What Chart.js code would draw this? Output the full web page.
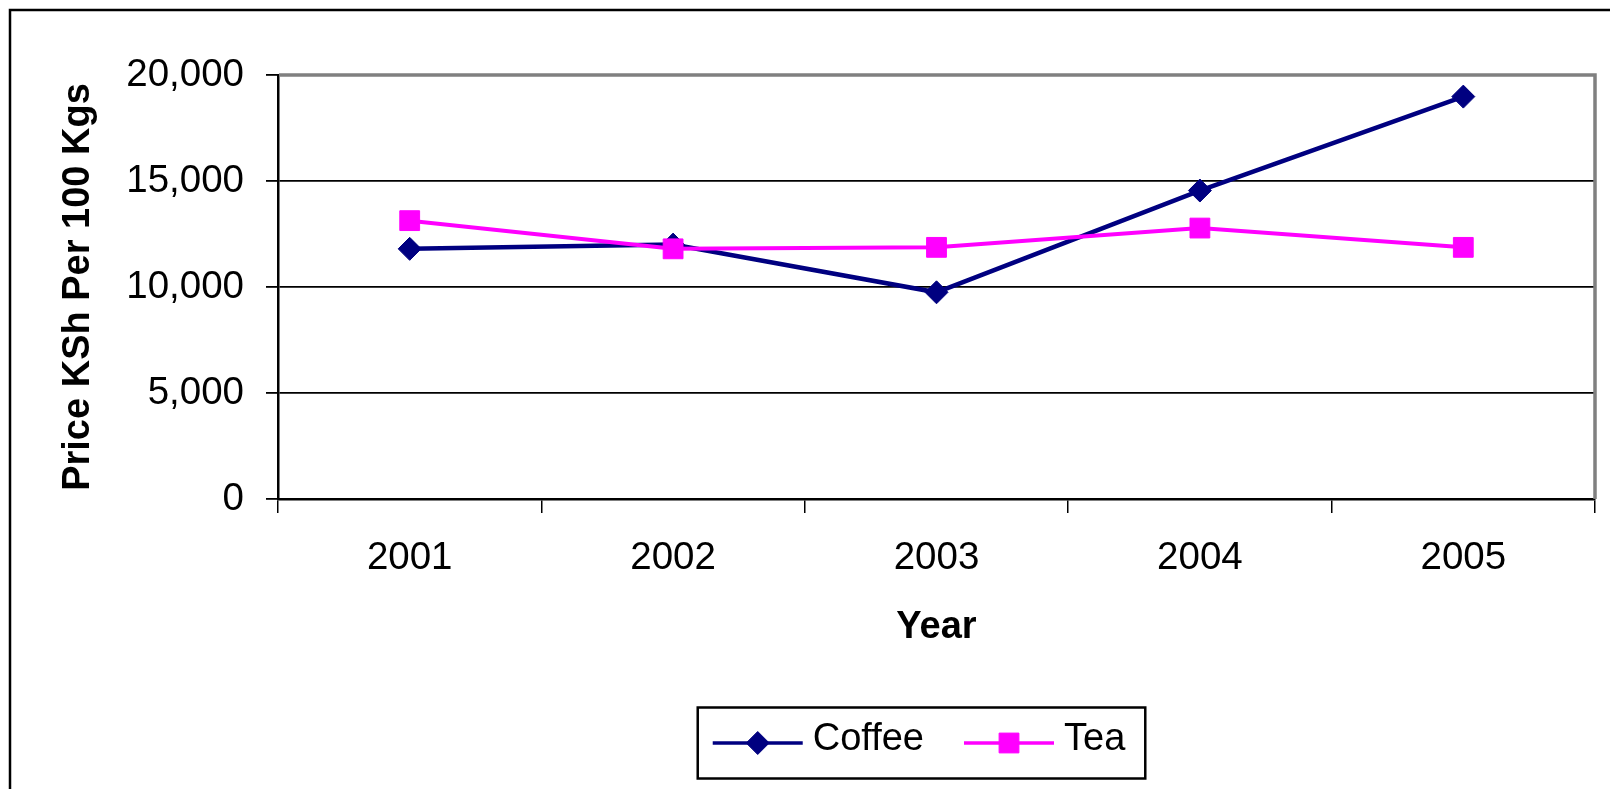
<!DOCTYPE html>
<html>
<head>
<meta charset="utf-8">
<title>Coffee and Tea Prices</title>
<script src="https://cdn.jsdelivr.net/npm/chart.js@4.4.1/dist/chart.umd.min.js"></script>
<style>
  html, body { margin: 0; padding: 0; background: #fff; overflow: hidden; }
  canvas { display: block; }
</style>
</head>
<body>
<canvas id="priceChart" width="1610" height="789"></canvas>
<script>
const years = ['2001', '2002', '2003', '2004', '2005'];
const coffeePrices = [11800, 12000, 9750, 14550, 18980];
const teaPrices = [13130, 11800, 11870, 12780, 11870];
const yTicks = [0, 5000, 10000, 15000, 20000];

Chart.defaults.font.family = '"Liberation Sans", Arial, sans-serif';
Chart.defaults.color = '#000';

// grey top/right edge of the plot and the black outer frame
const framePlugin = {
  id: 'frame',
  afterDraw(chart) {
    const { ctx, chartArea: a } = chart;
    ctx.save();
    ctx.strokeStyle = '#808080';
    ctx.lineWidth = 3.5;
    ctx.beginPath();
    ctx.moveTo(a.left + 1, a.top);
    ctx.lineTo(a.right, a.top);
    ctx.lineTo(a.right, a.bottom);
    ctx.stroke();
    ctx.strokeStyle = '#000';
    ctx.lineWidth = 2.5;
    ctx.strokeRect(10, 10, chart.width + 50, chart.height + 50);
    ctx.restore();
  }
};

// Excel style legend: line with marker, inside a box
const boxLegend = {
  id: 'boxLegend',
  afterDraw(chart) {
    const { ctx, chartArea: a } = chart;
    const sets = chart.data.datasets;
    ctx.save();
    ctx.font = '38px "Liberation Sans", Arial, sans-serif';
    const lineLen = 90, gapText = 10, gapItem = 40, padL = 15, padR = 20, h = 71;
    const widths = sets.map(d => ctx.measureText(d.label).width);
    const total = padL + padR + widths.reduce((s, w) => s + lineLen + gapText + w, 0) + gapItem * (sets.length - 1);
    const cx = (a.left + a.right) / 2 - 15;
    const cy = 743;
    const left = cx - total / 2;
    ctx.strokeStyle = '#000';
    ctx.lineWidth = 2.5;
    ctx.strokeRect(left, cy - h / 2, total, h);
    let x = left + padL;
    sets.forEach((d, i) => {
      ctx.strokeStyle = d.borderColor;
      ctx.fillStyle = d.backgroundColor;
      ctx.lineWidth = 3.5;
      ctx.beginPath();
      ctx.moveTo(x, cy);
      ctx.lineTo(x + lineLen, cy);
      ctx.stroke();
      ctx.lineWidth = 1;
      Chart.helpers.drawPoint(ctx, { pointStyle: d.pointStyle, radius: d.pointRadius, borderWidth: 1, rotation: 0 }, x + lineLen / 2, cy);
      x += lineLen + gapText;
      ctx.fillStyle = '#000';
      ctx.textBaseline = 'middle';
      ctx.textAlign = 'left';
      ctx.fillText(d.label, x, cy - 3);
      x += widths[i] + gapItem;
    });
    ctx.restore();
  }
};

new Chart(document.getElementById('priceChart'), {
  type: 'line',
  data: {
    labels: years,
    datasets: [
      {
        label: 'Coffee',
        data: coffeePrices,
        borderColor: '#000080',
        backgroundColor: '#000080',
        borderWidth: 4.5,
        pointStyle: 'rectRot',
        pointRadius: 11.5,
        pointBorderWidth: 1,
        order: 1
      },
      {
        label: 'Tea',
        data: teaPrices,
        borderColor: '#ff00ff',
        backgroundColor: '#ff00ff',
        borderWidth: 4,
        pointStyle: 'rect',
        pointRadius: 14,
        pointBorderWidth: 1,
        order: 0
      }
    ]
  },
  options: {
    responsive: false,
    animation: false,
    events: [],
    layout: { padding: { top: 75, right: 15, bottom: 0, left: 0 } },
    plugins: {
      legend: { display: false },
      tooltip: { enabled: false }
    },
    scales: {
      x: {
        offset: true,
        grid: { offset: true, drawOnChartArea: false, drawTicks: true, tickLength: 14, color: '#000', lineWidth: 1.5 },
        border: { color: '#000', width: 2.5 },
        ticks: { color: '#000', padding: 22, maxRotation: 0, font: { size: 38.5 } },
        title: {
          display: true,
          text: 'Year',
          color: '#000',
          font: { size: 38, weight: 'bold' },
          padding: { top: 0, bottom: 139 }
        },
        afterFit: s => { s.height = 290; }
      },
      y: {
        min: 0,
        max: 20000,
        afterBuildTicks: s => { s.ticks = yTicks.map(v => ({ value: v })); },
        grid: { color: '#000', lineWidth: 1.8, tickLength: 12 },
        border: { color: '#000', width: 2.5 },
        ticks: {
          color: '#000',
          padding: 22,
          font: { size: 38.5 },
          callback: v => v.toLocaleString('en-US')
        },
        title: {
          display: true,
          text: 'Price KSh Per 100 Kgs',
          color: '#000',
          font: { size: 38, weight: 'bold' },
          padding: { top: 56, bottom: 0 }
        },
        afterFit: s => { s.width = 278; }
      }
    }
  },
  plugins: [framePlugin, boxLegend]
});
</script>
</body>
</html>
